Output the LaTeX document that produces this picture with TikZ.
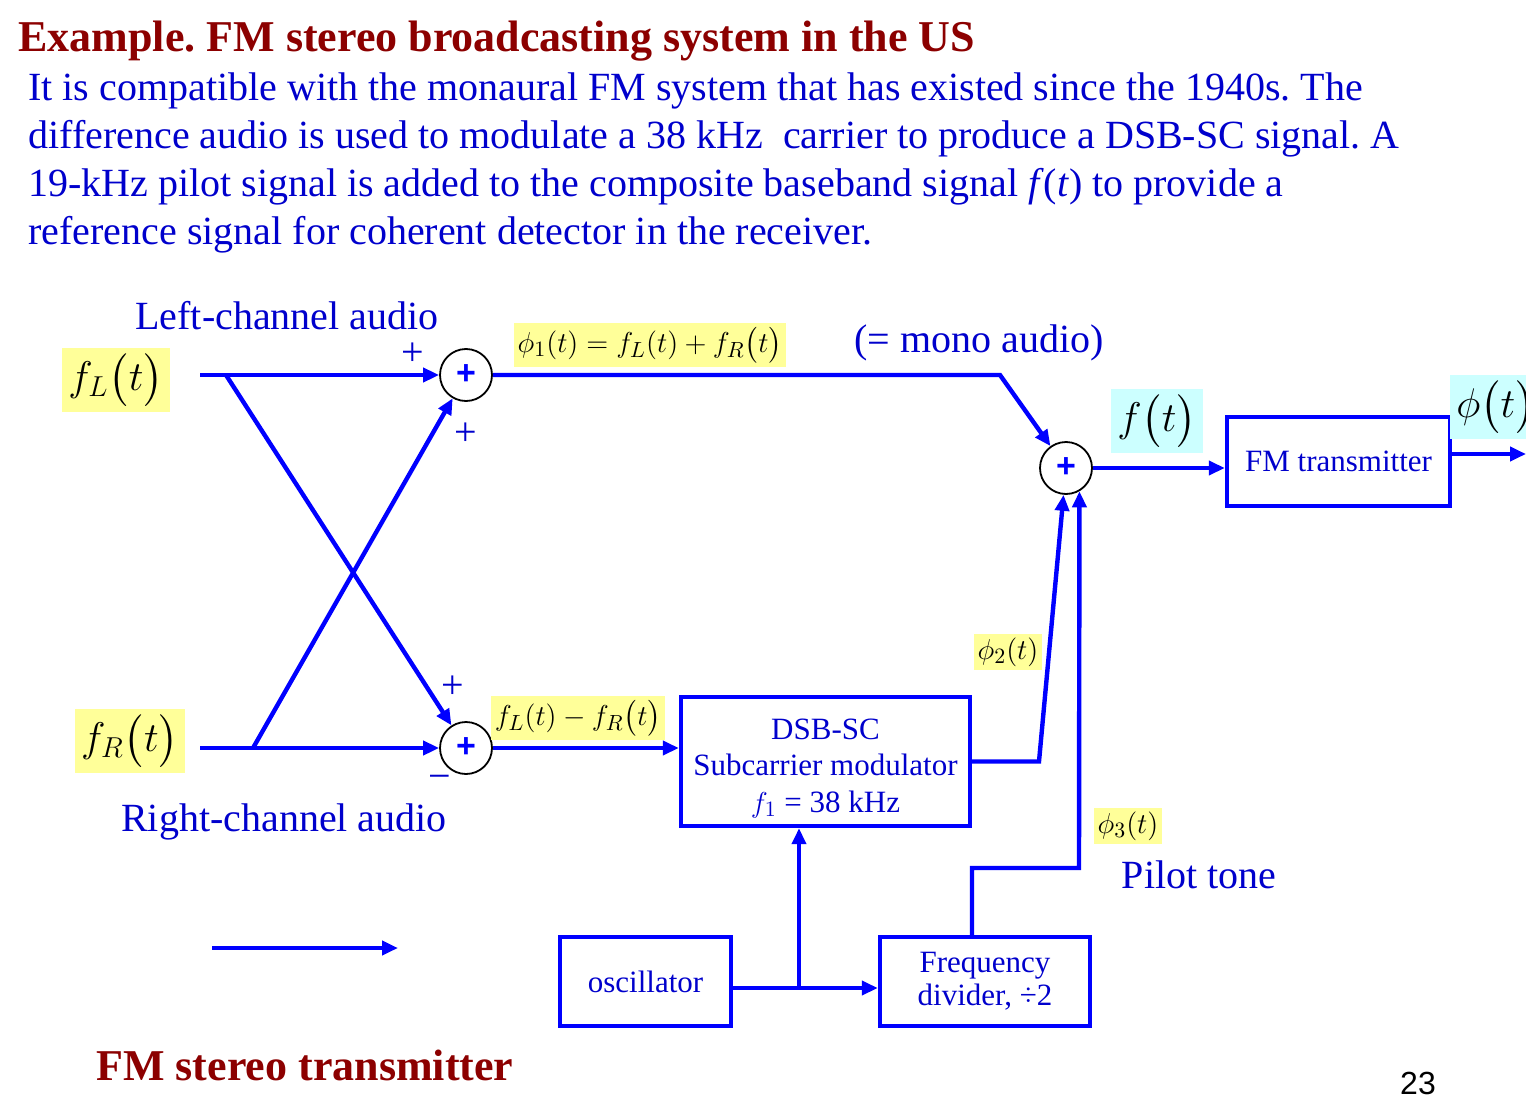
\documentclass[tikz,border=0pt]{standalone}
\usepackage{fontspec}
\setmainfont{Liberation Serif}
\newfontfamily\arialfont{Liberation Sans}
\definecolor{titlered}{RGB}{140,0,0}
\definecolor{textblue}{RGB}{0,0,204}
\definecolor{lineblue}{RGB}{0,0,255}
\definecolor{labelyellow}{RGB}{255,255,153}
\definecolor{labelcyan}{RGB}{204,255,255}
\usepackage{amsmath,amssymb}
\usepackage{tikz}
\usetikzlibrary{shapes,arrows.meta,positioning,calc}
\frenchspacing

\begin{document}
\begin{tikzpicture}[x=0.5pt,y=-0.5pt,
    sig/.style={lineblue,line width=2.2pt},
    sigarrow/.style={sig,-{Triangle[length=8pt,width=7pt]}},
    sumnode/.style={circle,draw=black,line width=0.9pt,fill=white,minimum size=26pt,inner sep=0pt,
        text=lineblue,font=\arialfont\bfseries\fontsize{17}{17}\selectfont},
    block/.style={draw=lineblue,line width=2.2pt,text=textblue,align=center,inner sep=0pt,
        font=\fontsize{15.5}{18.3}\selectfont},
    yellowlabel/.style={fill=labelyellow,text=black,inner sep=2pt,font=\fontsize{15}{15}\selectfont},
    cyanlabel/.style={fill=labelcyan,text=black,inner sep=3pt,font=\fontsize{22}{22}\selectfont},
    caption/.style={text=textblue,inner sep=0pt,font=\fontsize{20}{24}\selectfont},
    signlabel/.style={text=textblue,inner sep=0pt,font=\fontsize{20}{20}\selectfont}]
                \useasboundingbox (0,0) rectangle (1526,1102);

                % Heading and text
                \node[anchor=base west,inner sep=0pt,text=titlered,font=\fontsize{22}{26}\selectfont\bfseries] (title) at (18,52)
                    {Example. FM stereo broadcasting system in the US};
                \node[anchor=north west,align=left,caption] (intro) at (28,72)
                    {It is compatible with the monaural FM system that has existed since the 1940s. The\\
                     difference audio is used to modulate a 38 kHz\ \ carrier to produce a DSB-SC signal. A\\
                     19-kHz pilot signal is added to the composite baseband signal \textit{f}(\textit{t}) to provide a\\
                     reference signal for coherent detector in the receiver.};

                % Inputs
                \node[yellowlabel,inner sep=3pt,font=\fontsize{22}{22}\selectfont] (fL) at (116,380) {$f_L\bigl(t\bigr)$};
                \node[yellowlabel,inner sep=3pt,font=\fontsize{22}{22}\selectfont] (fR) at (130,741) {$f_R\bigl(t\bigr)$};
                \node[caption] (leftcap) at (287,316) {Left-channel audio};
                \node[caption] (rightcap) at (284,822) {Right-channel audio};
                \coordinate (inL) at (200,375);
                \coordinate (splitL) at (226,375);
                \coordinate (inR) at (200,748);
                \coordinate (splitR) at (253,748);

                % Summing junctions
                \node[sumnode] (sum1) at (466,375) {+};
                \node[sumnode] (sum2) at (466,748) {+};
                \node[sumnode] (sum3) at (1066,468) {+};
                \node[signlabel] (sign1a) at (413,354) {+};
                \node[signlabel] (sign1b) at (466,434) {+};
                \node[signlabel] (sign2a) at (453,687) {+};
                \node[signlabel] (sign2b) at (440,782) {−};

                \draw[sigarrow] (inL) -- (sum1);
                \draw[sigarrow] (inR) -- (sum2);
                \draw[sigarrow] (splitL) -- (sum2);
                \draw[sigarrow] (splitR) -- (sum1);

                % Blocks
                \node[block,minimum width=144.5pt,minimum height=64.5pt] (dsb) at (825.5,761.5)
                    {\rule{0pt}{17pt}DSB-SC\\Subcarrier modulator\\$f_1$ = 38 kHz};
                \node[block,minimum width=111.5pt,minimum height=44.5pt] (fmtx) at (1338.5,461.5) {FM transmitter};
                \node[block,minimum width=85.5pt,minimum height=44.5pt] (osc) at (645.5,981.5) {oscillator};
                \node[block,minimum width=105pt,minimum height=44.5pt,font=\fontsize{15.5}{16.5}\selectfont] (fdiv) at (985,981.5)
                    {Frequency\\divider, ÷2};

                % Signal paths
                \coordinate (monobend) at (1000,375);
                \coordinate (dsbbend) at (1039,761.5);
                \coordinate (pilotbend) at (1079,868);
                \coordinate (oscsplit) at (799,988);
                \coordinate (txout) at (1526,454);
                \draw[sigarrow] (sum1) -- (monobend) -- (sum3);
                \draw[sigarrow] (sum2) -- (sum2 -| dsb.west);
                \draw[sigarrow] (dsb.east) -- (dsbbend) -- (sum3);
                \draw[sigarrow] ([xshift=-6.5pt]fdiv.north) |- (pilotbend) -- (sum3.-60);
                \draw[sigarrow] ([yshift=-3.25pt]osc.east) -- ([yshift=-3.25pt]fdiv.west);
                \draw[sigarrow] (oscsplit) -- (oscsplit |- dsb.south);
                \draw[sigarrow] (sum3) -- (sum3 -| fmtx.west);
                \draw[sigarrow] (fmtx.east |- txout) -- (txout);

                % Signal labels
                \node[yellowlabel] (phi1) at (650,345) {$\phi_1(t)=f_L(t)+f_R\bigl(t\bigr)$};
                \node[caption] (monocap) at (979,343) {(= mono audio)};
                \node[yellowlabel] (diff) at (578,718) {$f_L(t)-f_R\bigl(t\bigr)$};
                \node[yellowlabel] (phi2) at (1008,652) {$\phi_2(t)$};
                \node[yellowlabel] (phi3) at (1128,826) {$\phi_3(t)$};
                \node[caption] (pilotcap) at (1199,875) {Pilot tone};
                \node[cyanlabel] (ft) at (1157,421) {$f\bigl(t\bigr)$};
                \node[cyanlabel] (phit) at (1496,407) {$\phi\bigl(t\bigr)$};

                % Key arrow and footer
                \coordinate (keystart) at (212,948);
                \coordinate (keyend) at (398,948);
                \draw[sigarrow] (keystart) -- (keyend);
                \node[anchor=base west,inner sep=0pt,text=titlered,font=\fontsize{22}{26}\selectfont\bfseries] (footer) at (96,1080)
                    {FM stereo transmitter};
                \node[font=\arialfont\fontsize{16}{16}\selectfont] (pagenum) at (1418,1083) {23};
            \end{tikzpicture}
\end{document}
